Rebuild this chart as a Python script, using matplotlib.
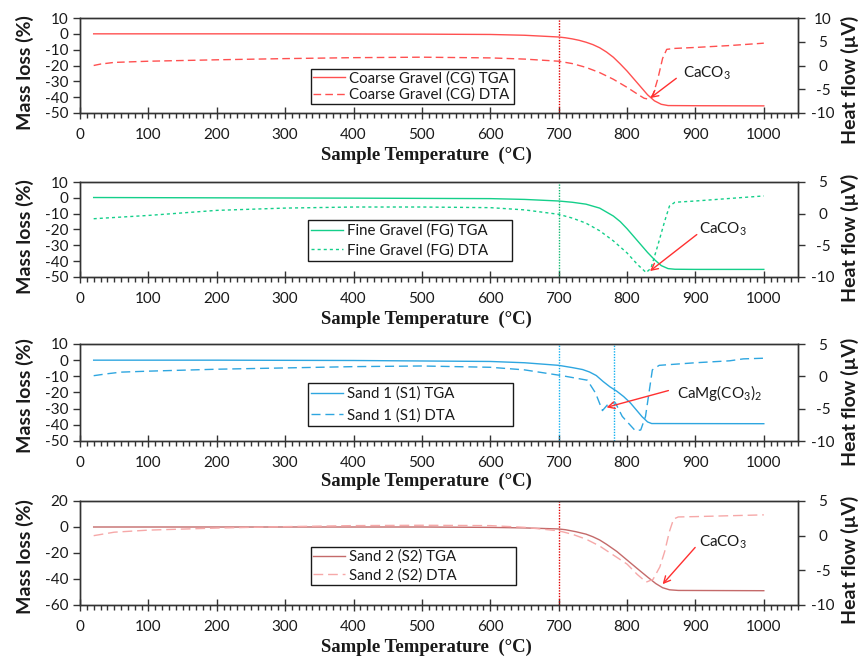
import matplotlib
matplotlib.use("Agg")
import matplotlib.pyplot as plt
from matplotlib.ticker import MultipleLocator

plt.rcParams["font.family"] = ["Lato", "DejaVu Sans"]
plt.rcParams["axes.unicode_minus"] = False
plt.rcParams["mathtext.fontset"] = "custom"
plt.rcParams["mathtext.rm"] = "Lato"
plt.rcParams["mathtext.it"] = "Lato:italic"
plt.rcParams["mathtext.bf"] = "Lato:bold"

# ---------------- data ----------------
# Coarse Gravel (CG)
cg_tga_t = [20, 100, 200, 300, 400, 500, 600, 650, 700, 710, 720, 730, 740, 750, 760, 770, 780, 790,
            800, 810, 820, 830, 840, 850, 860, 900, 1000]
cg_tga = [0.0, 0.0, 0.0, 0.0, -0.1, -0.2, -0.4, -0.9, -2.0, -2.5, -3.2, -4.1, -5.3, -6.8, -8.8, -11.5,
          -14.8, -19.0, -23.5, -28.5, -33.5, -38.5, -42.3, -44.5, -45.3, -45.4, -45.5]
cg_dta_t = [20, 30, 50, 100, 200, 300, 400, 500, 600, 650, 700, 720, 740, 760, 780, 800, 815, 825, 832,
            838, 845, 852, 858, 870, 900, 950, 1000]
cg_dta = [0.0, 0.3, 0.65, 0.9, 1.2, 1.45, 1.65, 1.75, 1.6, 1.35, 0.9, 0.4, -0.4, -1.5, -2.9, -4.6, -6.0,
          -6.9, -7.1, -6.2, -2.8, 1.5, 3.4, 3.6, 3.8, 4.2, 4.7]

# Fine Gravel (FG)
fg_tga_t = [20, 200, 400, 600, 650, 700, 720, 740, 760, 780, 790, 800, 810, 820, 830, 840, 850, 860,
            870, 900, 1000]
fg_tga = [0.2, 0.0, -0.2, -0.5, -1.0, -2.0, -2.8, -4.0, -6.5, -11.5, -15.0, -19.5, -24.5, -29.5, -34.5,
          -39.0, -42.8, -44.7, -45.1, -45.2, -45.2]
fg_dta_t = [20, 100, 200, 300, 400, 500, 600, 650, 700, 720, 740, 760, 780, 800, 815, 828, 835, 845,
            855, 862, 870, 900, 950, 1000]
fg_dta = [-0.8, -0.28, 0.52, 0.88, 1.05, 1.05, 0.95, 0.6, -0.1, -0.7, -1.5, -2.7, -4.3, -6.2, -8.0,
          -9.3, -8.6, -5.0, -1.2, 1.2, 1.8, 2.0, 2.4, 2.8]

# Sand 1 (S1)
s1_tga_t = [20, 200, 400, 600, 650, 700, 720, 735, 745, 755, 765, 775, 785, 795, 805, 815, 822, 830,
            836, 1000]
s1_tga = [0.0, 0.0, -0.2, -0.8, -1.6, -3.2, -4.6, -5.8, -7.3, -9.5, -13.2, -16.5, -19.2, -22.5, -26.5,
          -31.5, -35.0, -38.2, -39.2, -39.3]
s1_dta_t = [20, 40, 60, 100, 200, 300, 400, 500, 600, 650, 705, 742, 754, 764, 773, 783, 793, 812, 820,
            827, 832, 837, 847, 900, 950, 970, 1000]
s1_dta = [0.1, 0.4, 0.65, 0.8, 1.1, 1.3, 1.5, 1.6, 1.4, 1.0, 0.1, -0.6, -2.6, -5.3, -4.2, -4.1, -6.2,
          -8.4, -8.3, -6.2, -2.6, 1.0, 1.7, 2.1, 2.4, 2.7, 2.8]
s1_events = [700, 781]

# Sand 2 (S2)
s2_tga_t = [20, 300, 500, 600, 650, 700, 710, 725, 740, 750, 760, 770, 785, 800, 815, 830, 842, 852,
            862, 875, 1000]
s2_tga = [0.0, 0.0, 0.0, -0.3, -0.7, -1.5, -2.1, -3.6, -5.5, -7.5, -10.0, -13.3, -18.8, -25.4, -32.0,
          -38.5, -43.5, -46.7, -48.3, -48.8, -49.0]
s2_dta_t = [20, 50, 100, 200, 300, 400, 500, 600, 650, 700, 720, 740, 760, 780, 800, 815, 828, 838,
            848, 855, 862, 868, 875, 900, 1000]
s2_dta = [0.0, 0.5, 0.8, 1.1, 1.3, 1.45, 1.5, 1.45, 1.2, 0.7, 0.2, -0.5, -1.5, -2.8, -4.1, -5.6, -6.7,
          -6.3, -4.5, -2.3, 0.6, 2.4, 2.7, 2.75, 3.0]

x_ticks_major = 100
x_ticks_minor = 10

# ---------------- layout helpers (pixels) ----------------
W, H = 862, 656
LEFT, RIGHT = 80, 798

fig = plt.figure(figsize=(W / 100, H / 100), dpi=100)


def px_box(top, bottom):
    return [LEFT / W, 1 - bottom / H, (RIGHT - LEFT) / W, (bottom - top) / H]


def fx(x):
    return x / W


def fy(y):
    return 1 - y / H


panels = [
    dict(top=18, bottom=113, ylim=(-50, 10), ystep=10, y2lim=(-10, 10), y2step=5,
         t1=cg_tga_t, v1=cg_tga, t2=cg_dta_t, v2=cg_dta,
         c1="#FF5050", c2="#FF5050", dash=(5.5, 3.0), vc="#E00000", events=[700],
         labels=["Coarse Gravel (CG) TGA", "Coarse Gravel (CG) DTA"],
         leg=(311, 514, 66, 107), lsp=0.15, bp=0.15,
         note=r"CaCO$_\mathregular{3}$", note_xy=(882, -1.7), tail=(872, -2.7), tip=(834, -6.85),
         ylab_y=73, y2lab_y=80, xlab_y=155),
    dict(top=182, bottom=277, ylim=(-50, 10), ystep=10, y2lim=(-10, 5), y2step=5,
         t1=fg_tga_t, v1=fg_tga, t2=fg_dta_t, v2=fg_dta,
         c1="#14CF8A", c2="#14CF8A", dash=(2.2, 2.2), vc="#10B870", events=[700],
         labels=["Fine Gravel (FG) TGA", "Fine Gravel (FG) DTA"],
         leg=(308, 512, 217, 264), lsp=0.36, bp=0.22,
         note=r"CaCO$_\mathregular{3}$", note_xy=(905, -2.5), tail=(902, -3.3), tip=(833.5, -9.06),
         ylab_y=237, y2lab_y=238, xlab_y=319),
    dict(top=344, bottom=441, ylim=(-50, 10), ystep=10, y2lim=(-10, 5), y2step=5,
         t1=s1_tga_t, v1=s1_tga, t2=s1_dta_t, v2=s1_dta,
         c1="#2EA6E0", c2="#2EA6E0", dash=(6.5, 3.5), vc="#10B0F0", events=s1_events,
         labels=["Sand 1 (S1) TGA", "Sand 1 (S1) DTA"],
         leg=(308, 513, 380, 429), lsp=0.48, bp=0.22,
         note=r"CaMg(CO$_\mathregular{3}$)$_\mathregular{2}$", note_xy=(873, -2.6), tail=(860.5, -2.2), tip=(770, -4.8),
         ylab_y=396, y2lab_y=402, xlab_y=481),
    dict(top=501, bottom=605, ylim=(-60, 20), ystep=20, y2lim=(-10, 5), y2step=5,
         t1=s2_tga_t, v1=s2_tga, t2=s2_dta_t, v2=s2_dta,
         c1="#C46A6A", c2="#F6A8A8", dash=(7.0, 3.5), vc="#E00000", events=[700],
         labels=["Sand 2 (S2) TGA", "Sand 2 (S2) DTA"],
         leg=(311, 516, 544, 588), lsp=0.27, bp=0.16,
         note=r"CaCO$_\mathregular{3}$", note_xy=(904.5, -1.0), tail=(899.6, -1.7), tip=(852, -7.0),
         ylab_y=557, y2lab_y=560, xlab_y=647),
]

SPINE = "#333333"
TXT = "#1a1a1a"
ARROW = "#FF3030"

for p in panels:
    ax = fig.add_axes(px_box(p["top"], p["bottom"]))
    ax2 = ax.twinx()

    ax.set_xlim(0, 1050)
    ax.set_ylim(*p["ylim"])
    ax2.set_ylim(*p["y2lim"])
    ax.xaxis.set_major_locator(MultipleLocator(x_ticks_major))
    ax.xaxis.set_minor_locator(MultipleLocator(x_ticks_minor))
    ax.yaxis.set_major_locator(MultipleLocator(p["ystep"]))
    ax2.yaxis.set_major_locator(MultipleLocator(p["y2step"]))

    for a in (ax, ax2):
        for s in a.spines.values():
            s.set_color(SPINE)
            s.set_linewidth(1.0)

    ax.tick_params(axis="x", which="major", direction="inout", length=8, width=1,
                   pad=7.0, labelsize=11, colors=SPINE, labelcolor=TXT)
    ax.tick_params(axis="x", which="minor", direction="out", length=3.5, width=1, colors=SPINE)
    ax.tick_params(axis="y", which="major", direction="out", length=5, width=1,
                   pad=3.5, labelsize=11, colors=SPINE, labelcolor=TXT)
    ax2.tick_params(axis="y", which="major", direction="out", length=5, width=1,
                    pad=13, labelsize=11, colors=SPINE, labelcolor=TXT)
    for lab in ax2.get_yticklabels():
        lab.set_horizontalalignment("center")

    l1, = ax.plot(p["t1"], p["v1"], color=p["c1"], lw=1.0, zorder=3)
    l2, = ax2.plot(p["t2"], p["v2"], color=p["c2"], lw=1.0, linestyle=(0, p["dash"]), zorder=3)

    for ev in p["events"]:
        ax.axvline(ev, color=p["vc"], lw=1.0, linestyle=(0, (1, 1)), zorder=2)

    # legend box
    l, r, t, b = p["leg"]
    ah = p["bottom"] - p["top"]
    x0 = (l - LEFT) / (RIGHT - LEFT)
    wdt = (r - l) / (RIGHT - LEFT)
    y0 = (p["bottom"] - b) / ah
    hgt = (b - t) / ah
    leg = ax2.legend([l1, l2], p["labels"], loc="center", bbox_to_anchor=(x0, y0, wdt, hgt),
                     mode="expand", borderaxespad=0, fontsize=10.8, handlelength=2.1,
                     handletextpad=0.3, labelspacing=p["lsp"], borderpad=p["bp"],
                     fancybox=False, framealpha=1, edgecolor="#1a1a1a")
    leg.get_frame().set_linewidth(1.0)
    for txt in leg.get_texts():
        txt.set_color(TXT)

    # annotation
    ax2.annotate("", xy=p["tip"], xytext=p["tail"],
                 arrowprops=dict(arrowstyle="->", color=ARROW, lw=1.0,
                                 shrinkA=0, shrinkB=0, mutation_scale=12), zorder=5)
    ax2.text(p["note_xy"][0], p["note_xy"][1], p["note"], fontsize=11, color=TXT,
             ha="left", va="center", zorder=5)

    # axis titles
    fig.text(fx(25), fy(p["ylab_y"]), "Mass loss (%)", rotation=90, ha="center", va="center",
             fontsize=14, fontweight="bold", color=TXT)
    fig.text(fx(850), fy(p["y2lab_y"]), "Heat flow (\u00b5V)", rotation=90, ha="center", va="center",
             fontsize=14, fontweight="bold", color=TXT)
    fig.text(fx(426), fy(p["xlab_y"]), "Sample Temperature  (\u00b0C)", ha="center", va="center",
             fontsize=13.5, fontweight="bold", family="Liberation Serif", color=TXT)

fig.savefig("out.png", dpi=100, facecolor="white")
